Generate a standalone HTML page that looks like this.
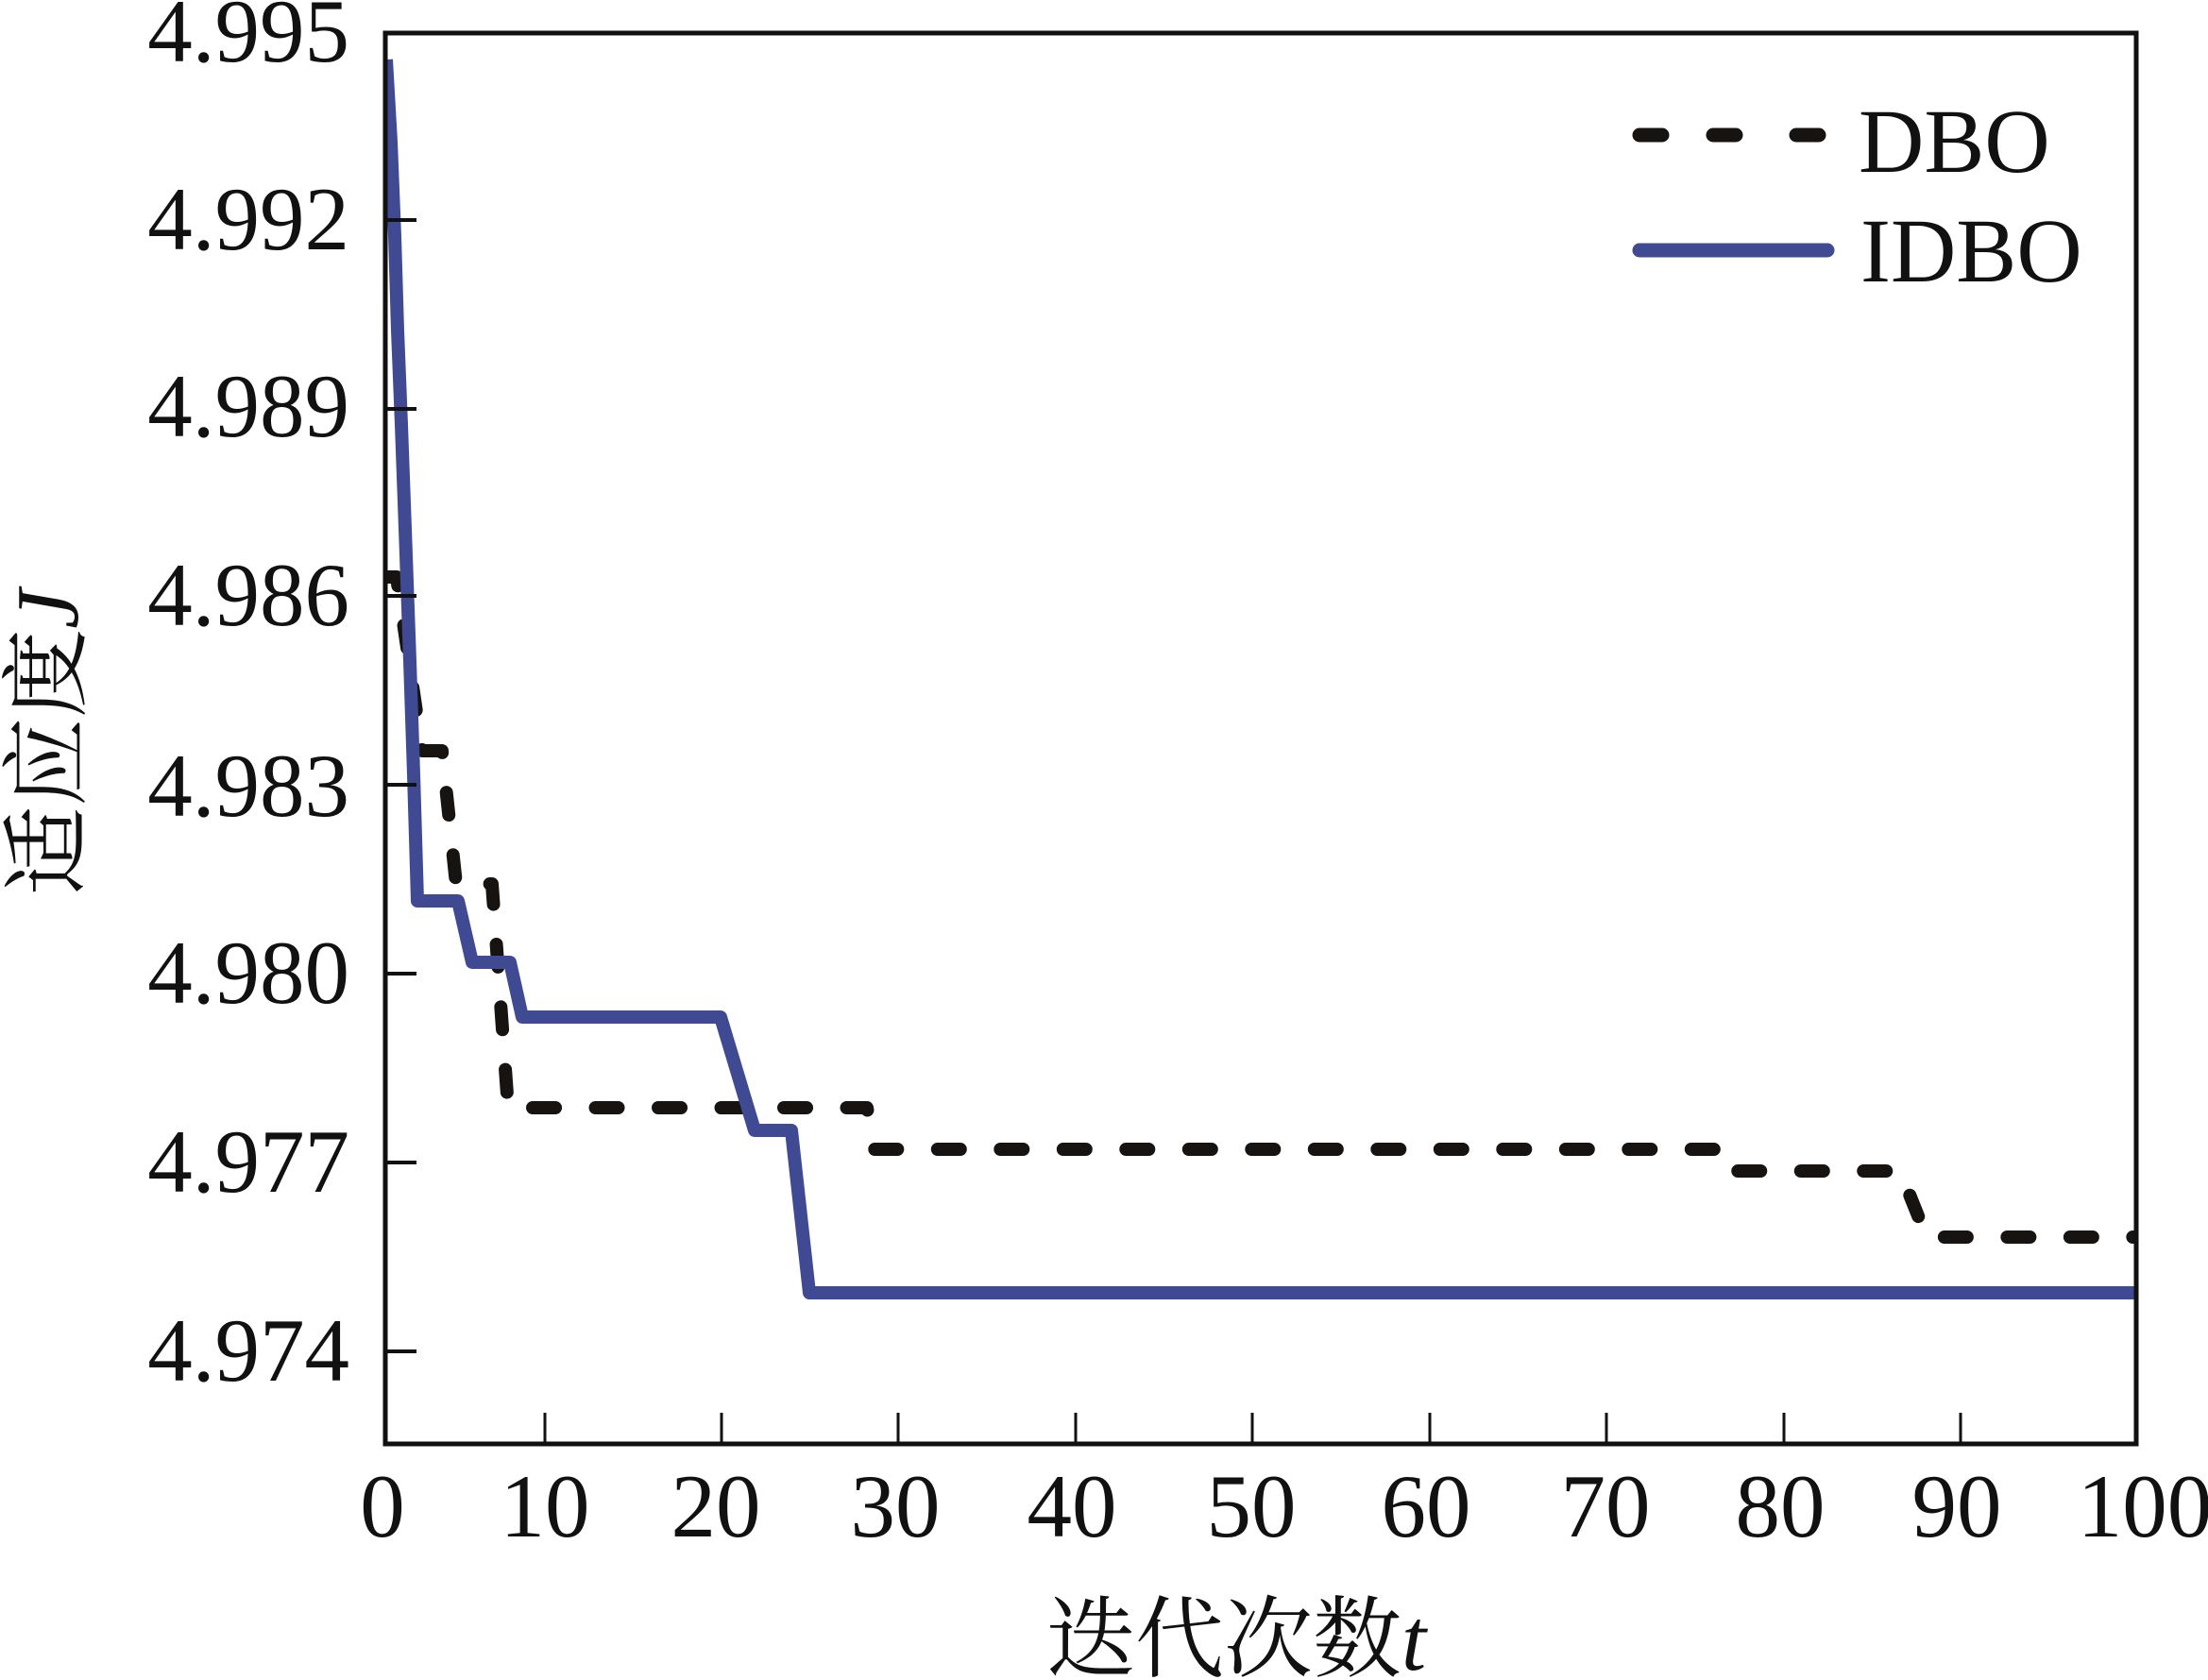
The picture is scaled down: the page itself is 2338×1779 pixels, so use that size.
<!DOCTYPE html>
<html>
<head>
<meta charset="utf-8">
<style>
html,body{margin:0;padding:0;background:#fff;}
svg{display:block;}
text{font-family:"Liberation Serif","Noto Serif CJK SC",serif;fill:#111;}
</style>
</head>
<body>
<svg width="2338" height="1779" viewBox="0 0 2338 1779" xmlns="http://www.w3.org/2000/svg">
<defs>
<clipPath id="pa"><rect x="410" y="37" width="1850" height="1490"/></clipPath>
</defs>
<rect x="0" y="0" width="2338" height="1779" fill="#fff"/>

<!-- series -->
<g clip-path="url(#pa)" fill="none">
<path d="M408,611 L420,611 L447,795 L468,795 L483,936 L521,936 L538,1173 L918,1173 L926,1217 L1829,1217 L1836,1240 L2012,1240 L2040,1310 L2270,1310"
 stroke="#161311" stroke-width="14" stroke-dasharray="24 42.5" stroke-dashoffset="2.6" stroke-linecap="round" stroke-linejoin="round"/>
<path d="M409,63 L414,150 L418,250 L421,350 L425,450 L429,560 L434,700 L438,820 L442,954 L485,954 L500,1019 L540,1019 L553,1077 L763,1077 L799,1197 L838,1197 L857,1369 L2270,1369"
 stroke="#3f4a92" stroke-width="14" stroke-linejoin="round"/>
</g>

<!-- axes frame -->
<rect x="408" y="35" width="1854" height="1494" fill="none" stroke="#111" stroke-width="5"/>

<!-- y ticks -->
<g stroke="#111" stroke-width="4">
<line x1="408" y1="233" x2="441" y2="233"/>
<line x1="408" y1="433" x2="441" y2="433"/>
<line x1="408" y1="631" x2="441" y2="631"/>
<line x1="408" y1="831" x2="441" y2="831"/>
<line x1="408" y1="1031" x2="441" y2="1031"/>
<line x1="408" y1="1231" x2="441" y2="1231"/>
<line x1="408" y1="1431" x2="441" y2="1431"/>
</g>
<!-- x ticks -->
<g stroke="#111" stroke-width="3">
<line x1="577" y1="1529" x2="577" y2="1496"/>
<line x1="764" y1="1529" x2="764" y2="1496"/>
<line x1="951" y1="1529" x2="951" y2="1496"/>
<line x1="1139" y1="1529" x2="1139" y2="1496"/>
<line x1="1326" y1="1529" x2="1326" y2="1496"/>
<line x1="1514" y1="1529" x2="1514" y2="1496"/>
<line x1="1701" y1="1529" x2="1701" y2="1496"/>
<line x1="1889" y1="1529" x2="1889" y2="1496"/>
<line x1="2076" y1="1529" x2="2076" y2="1496"/>
</g>

<!-- y tick labels -->
<g font-size="95" text-anchor="end">
<text x="370" y="65">4.995</text>
<text x="370" y="264">4.992</text>
<text x="370" y="462">4.989</text>
<text x="370" y="662">4.986</text>
<text x="370" y="864">4.983</text>
<text x="370" y="1062">4.980</text>
<text x="370" y="1262">4.977</text>
<text x="370" y="1462">4.974</text>
</g>

<!-- x tick labels -->
<g font-size="95" text-anchor="middle">
<text x="405" y="1627">0</text>
<text x="577" y="1627">10</text>
<text x="758" y="1627">20</text>
<text x="948" y="1627">30</text>
<text x="1135" y="1627">40</text>
<text x="1325" y="1627">50</text>
<text x="1510" y="1627">60</text>
<text x="1700" y="1627">70</text>
<text x="1885" y="1627">80</text>
<text x="2072" y="1627">90</text>
<text x="2271" y="1627">100</text>
</g>

<!-- axis titles -->
<text x="1108" y="1768" font-size="94">迭代次数<tspan font-style="italic">t</tspan></text>
<text transform="translate(82,786) rotate(-90)" font-size="94" text-anchor="middle">适应度<tspan font-style="italic">J</tspan></text>

<!-- legend -->
<g stroke="#161311" stroke-width="15" stroke-linecap="round">
<line x1="1736" y1="143" x2="1760" y2="143"/>
<line x1="1814" y1="143" x2="1838" y2="143"/>
<line x1="1902" y1="143" x2="1926" y2="143"/>
</g>
<line x1="1736" y1="265" x2="1935" y2="265" stroke="#3f4a92" stroke-width="15" stroke-linecap="round"/>
<text x="1968" y="182" font-size="96">DBO</text>
<text x="1970" y="298" font-size="96">IDBO</text>
</svg>
</body>
</html>
